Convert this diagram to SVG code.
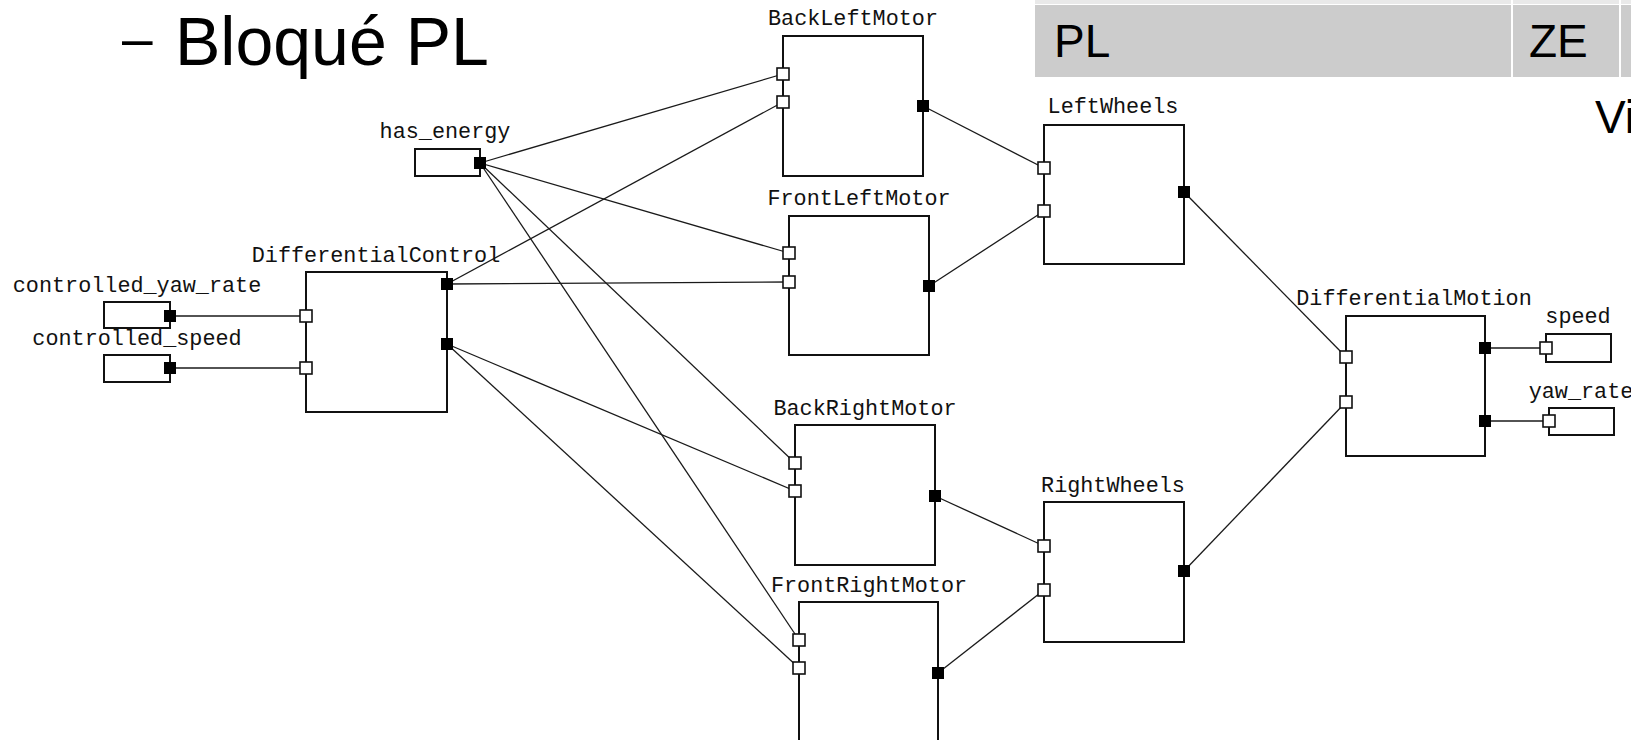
<svg xmlns="http://www.w3.org/2000/svg" width="1631" height="740" viewBox="0 0 1631 740">
<style>
.box{fill:#fff;stroke:#111;stroke-width:2}
.lbl{font-family:"Liberation Mono","DejaVu Sans Mono",monospace;font-size:21.8px;fill:#111;text-anchor:middle}
.pin{fill:#fff;stroke:#111;stroke-width:1.6}
.pout{fill:#000;stroke:none}
.con line{stroke:#1a1a1a;stroke-width:1.3;fill:none}
.big{font-family:"Liberation Sans",Arial,sans-serif;fill:#000}
</style>
<rect x="0" y="0" width="1631" height="740" fill="#fff"/>
<g id="title">
<text class="big" x="122" y="57" font-size="55">–</text>
<text class="big" x="175" y="65" font-size="68">Bloqué PL</text>
</g>
<g id="topbar">
<rect x="1035" y="0" width="596" height="4" fill="#e9e9e9"/>
<rect x="1035" y="5" width="596" height="72" fill="#cccccc"/>
<rect x="1511" y="0" width="2" height="77" fill="#fff"/>
<rect x="1619" y="0" width="2" height="77" fill="#fff"/>
<text class="big" x="1054" y="57" font-size="46">PL</text>
<text class="big" x="1529" y="57" font-size="46">ZE</text>
<text class="big" x="1595" y="133" font-size="46">Vi</text>
</g>
<g id="connectors" class="con">
<line x1="170" y1="316" x2="306" y2="316"/>
<line x1="170" y1="368" x2="306" y2="368"/>
<line x1="480" y1="163" x2="783" y2="74"/>
<line x1="480" y1="163" x2="789" y2="253"/>
<line x1="480" y1="163" x2="795" y2="463"/>
<line x1="480" y1="163" x2="799" y2="640"/>
<line x1="447" y1="284" x2="783" y2="102"/>
<line x1="447" y1="284" x2="789" y2="282"/>
<line x1="447" y1="344" x2="795" y2="491"/>
<line x1="447" y1="344" x2="799" y2="668"/>
<line x1="923" y1="106" x2="1044" y2="168"/>
<line x1="929" y1="286" x2="1044" y2="211"/>
<line x1="935" y1="496" x2="1044" y2="546"/>
<line x1="938" y1="673" x2="1044" y2="590"/>
<line x1="1184" y1="192" x2="1346" y2="357"/>
<line x1="1184" y1="571" x2="1346" y2="402"/>
<line x1="1485" y1="348" x2="1546" y2="348"/>
<line x1="1485" y1="421" x2="1549" y2="421"/>
</g>
<g id="controlled_yaw_rate">
<text class="lbl" x="137" y="292">controlled_yaw_rate</text>
<rect class="box" x="104" y="302" width="66" height="26"/>
<rect class="pout" x="164" y="310" width="12" height="12"/>
</g>
<g id="controlled_speed">
<text class="lbl" x="137" y="345">controlled_speed</text>
<rect class="box" x="104" y="355" width="66" height="27"/>
<rect class="pout" x="164" y="362" width="12" height="12"/>
</g>
<g id="has_energy">
<text class="lbl" x="445" y="138">has_energy</text>
<rect class="box" x="415" y="149" width="65" height="27"/>
<rect class="pout" x="474" y="157" width="12" height="12"/>
</g>
<g id="DifferentialControl">
<text class="lbl" x="376" y="262">DifferentialControl</text>
<rect class="box" x="306" y="272" width="141" height="140"/>
<rect class="pin" x="300" y="310" width="12" height="12"/>
<rect class="pin" x="300" y="362" width="12" height="12"/>
<rect class="pout" x="441" y="278" width="12" height="12"/>
<rect class="pout" x="441" y="338" width="12" height="12"/>
</g>
<g id="BackLeftMotor">
<text class="lbl" x="853" y="25">BackLeftMotor</text>
<rect class="box" x="783" y="36" width="140" height="140"/>
<rect class="pin" x="777" y="68" width="12" height="12"/>
<rect class="pin" x="777" y="96" width="12" height="12"/>
<rect class="pout" x="917" y="100" width="12" height="12"/>
</g>
<g id="FrontLeftMotor">
<text class="lbl" x="859" y="205">FrontLeftMotor</text>
<rect class="box" x="789" y="216" width="140" height="139"/>
<rect class="pin" x="783" y="247" width="12" height="12"/>
<rect class="pin" x="783" y="276" width="12" height="12"/>
<rect class="pout" x="923" y="280" width="12" height="12"/>
</g>
<g id="BackRightMotor">
<text class="lbl" x="865" y="415">BackRightMotor</text>
<rect class="box" x="795" y="425" width="140" height="140"/>
<rect class="pin" x="789" y="457" width="12" height="12"/>
<rect class="pin" x="789" y="485" width="12" height="12"/>
<rect class="pout" x="929" y="490" width="12" height="12"/>
</g>
<g id="FrontRightMotor">
<text class="lbl" x="869" y="592">FrontRightMotor</text>
<rect class="box" x="799" y="602" width="139" height="170"/>
<rect class="pin" x="793" y="634" width="12" height="12"/>
<rect class="pin" x="793" y="662" width="12" height="12"/>
<rect class="pout" x="932" y="667" width="12" height="12"/>
</g>
<g id="LeftWheels">
<text class="lbl" x="1113" y="113">LeftWheels</text>
<rect class="box" x="1044" y="125" width="140" height="139"/>
<rect class="pin" x="1038" y="162" width="12" height="12"/>
<rect class="pin" x="1038" y="205" width="12" height="12"/>
<rect class="pout" x="1178" y="186" width="12" height="12"/>
</g>
<g id="RightWheels">
<text class="lbl" x="1113" y="492">RightWheels</text>
<rect class="box" x="1044" y="502" width="140" height="140"/>
<rect class="pin" x="1038" y="540" width="12" height="12"/>
<rect class="pin" x="1038" y="584" width="12" height="12"/>
<rect class="pout" x="1178" y="565" width="12" height="12"/>
</g>
<g id="DifferentialMotion">
<text class="lbl" x="1414" y="305">DifferentialMotion</text>
<rect class="box" x="1346" y="316" width="139" height="140"/>
<rect class="pin" x="1340" y="351" width="12" height="12"/>
<rect class="pin" x="1340" y="396" width="12" height="12"/>
<rect class="pout" x="1479" y="342" width="12" height="12"/>
<rect class="pout" x="1479" y="415" width="12" height="12"/>
</g>
<g id="speed">
<text class="lbl" x="1578" y="323">speed</text>
<rect class="box" x="1546" y="334" width="65" height="28"/>
<rect class="pin" x="1540" y="342" width="12" height="12"/>
</g>
<g id="yaw_rate">
<text class="lbl" x="1581" y="398">yaw_rate</text>
<rect class="box" x="1549" y="408" width="65" height="27"/>
<rect class="pin" x="1543" y="415" width="12" height="12"/>
</g>
</svg>
